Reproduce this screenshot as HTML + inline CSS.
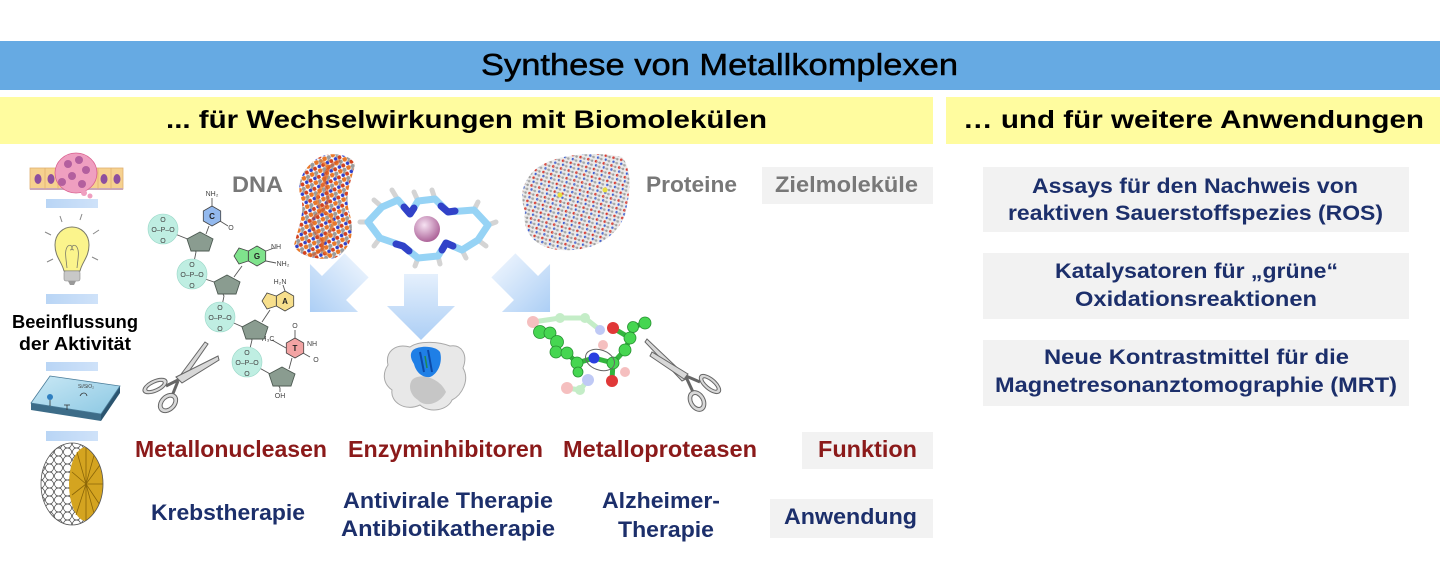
<!DOCTYPE html>
<html><head><meta charset="utf-8"><style>
html,body{margin:0;padding:0;background:#fff;}
svg{display:block;}
text{font-family:"Liberation Sans","DejaVu Sans",sans-serif;}
</style></head><body>
<svg width="1440" height="578" viewBox="0 0 1440 578" xmlns="http://www.w3.org/2000/svg">
<defs>
 <linearGradient id="arrG" x1="0" y1="0" x2="0" y2="1">
  <stop offset="0" stop-color="#e2eefc"/><stop offset="1" stop-color="#a3c9f4"/>
 </linearGradient>
 <linearGradient id="barG" x1="0" y1="0" x2="1" y2="0">
  <stop offset="0" stop-color="#b9d5f5"/><stop offset="1" stop-color="#cfe2f9"/>
 </linearGradient>
 <linearGradient id="chipG" x1="0" y1="0" x2="1" y2="1">
  <stop offset="0" stop-color="#c9e8f5"/><stop offset="1" stop-color="#8cc8e3"/>
 </linearGradient>
 <radialGradient id="pinkG" cx="0.4" cy="0.35" r="0.7">
  <stop offset="0" stop-color="#f6e2f2"/><stop offset="1" stop-color="#a85b93"/>
 </radialGradient>
 <pattern id="dnaP" width="9" height="9" patternUnits="userSpaceOnUse" patternTransform="rotate(-25)">
  <circle cx="2" cy="2" r="2.4" fill="#e8782a"/>
  <circle cx="6.5" cy="2.5" r="2.1" fill="#9b9b9b"/>
  <circle cx="3" cy="6.8" r="1.8" fill="#3040c8"/>
  <circle cx="7.2" cy="7" r="2" fill="#d2421f"/>
  <circle cx="5" cy="5" r="1.2" fill="#a0a0a0"/>
 </pattern>
 <pattern id="protP" width="8" height="8" patternUnits="userSpaceOnUse" patternTransform="rotate(15)">
  <circle cx="1.5" cy="1.5" r="1.3" fill="#e02a20"/>
  <circle cx="5.5" cy="2" r="1.2" fill="#9a9a9a"/>
  <circle cx="2.5" cy="5.5" r="1.2" fill="#2f55d8"/>
  <circle cx="6" cy="6" r="1.3" fill="#a8a8a8"/>
  <path d="M1.5,1.5 L5.5,2 M2.5,5.5 L6,6" stroke="#aaa" stroke-width="0.7"/>
 </pattern>
 <pattern id="micP" width="9" height="8" patternUnits="userSpaceOnUse">
  <circle cx="4.5" cy="4" r="4" fill="#fff" stroke="#444" stroke-width="0.7"/>
 </pattern>
 <clipPath id="micClip"><ellipse cx="72" cy="484" rx="31" ry="41"/></clipPath>
 <g id="arrow"><path d="M-17,-33 L17,-33 L17,-1 L34,-1 L0,33 L-34,-1 L-17,-1 Z" fill="url(#arrG)" opacity="0.9"/></g>
</defs>

<!-- header bars -->
<rect x="0" y="41" width="1440" height="49" fill="#66aae3"/>
<text x="481" y="75" font-size="31" fill="#000" stroke="#000" stroke-width="0.5" textLength="477" lengthAdjust="spacingAndGlyphs">Synthese von Metallkomplexen</text>
<rect x="0" y="97" width="933" height="47" fill="#fffc9f"/>
<rect x="946" y="97" width="494" height="47" fill="#fffc9f"/>
<text x="166" y="128" font-size="25" font-weight="bold" fill="#000" textLength="601" lengthAdjust="spacingAndGlyphs">... für Wechselwirkungen mit Biomolekülen</text>
<text x="963" y="128" font-size="25" font-weight="bold" fill="#000" textLength="461" lengthAdjust="spacingAndGlyphs">… und für weitere Anwendungen</text>

<!-- right boxes -->
<rect x="983" y="167" width="426" height="65" fill="#f2f2f2"/>
<rect x="983" y="253" width="426" height="66" fill="#f2f2f2"/>
<rect x="983" y="340" width="426" height="66" fill="#f2f2f2"/>
<g font-size="21" font-weight="bold" fill="#1c2f6b">
 <text x="1032" y="193" textLength="326" lengthAdjust="spacingAndGlyphs">Assays für den Nachweis von</text>
 <text x="1008" y="220" textLength="375" lengthAdjust="spacingAndGlyphs">reaktiven Sauerstoffspezies (ROS)</text>
 <text x="1055" y="278" textLength="283" lengthAdjust="spacingAndGlyphs">Katalysatoren für „grüne“</text>
 <text x="1075" y="306" textLength="242" lengthAdjust="spacingAndGlyphs">Oxidationsreaktionen</text>
 <text x="1044" y="364" textLength="305" lengthAdjust="spacingAndGlyphs">Neue Kontrastmittel für die</text>
 <text x="995" y="392" textLength="402" lengthAdjust="spacingAndGlyphs">Magnetresonanztomographie (MRT)</text>
</g>

<!-- label boxes -->
<rect x="762" y="167" width="171" height="37" fill="#f2f2f2"/>
<rect x="802" y="432" width="131" height="37" fill="#f2f2f2"/>
<rect x="770" y="499" width="163" height="39" fill="#f2f2f2"/>
<g font-size="22" font-weight="bold" fill="#787878">
 <text x="232" y="192" textLength="51" lengthAdjust="spacingAndGlyphs">DNA</text>
 <text x="646" y="192" textLength="91" lengthAdjust="spacingAndGlyphs">Proteine</text>
 <text x="775" y="192" textLength="143" lengthAdjust="spacingAndGlyphs">Zielmoleküle</text>
</g>
<g font-size="23" font-weight="bold" fill="#8b1a1a">
 <text x="135" y="457" textLength="192" lengthAdjust="spacingAndGlyphs">Metallonucleasen</text>
 <text x="348" y="457" textLength="195" lengthAdjust="spacingAndGlyphs">Enzyminhibitoren</text>
 <text x="563" y="457" textLength="194" lengthAdjust="spacingAndGlyphs">Metalloproteasen</text>
 <text x="818" y="457" textLength="99" lengthAdjust="spacingAndGlyphs">Funktion</text>
</g>
<g font-size="22" font-weight="bold" fill="#1c2f6b">
 <text x="151" y="520" textLength="154" lengthAdjust="spacingAndGlyphs">Krebstherapie</text>
 <text x="343" y="508" textLength="210" lengthAdjust="spacingAndGlyphs">Antivirale Therapie</text>
 <text x="341" y="536" textLength="214" lengthAdjust="spacingAndGlyphs">Antibiotikatherapie</text>
 <text x="602" y="508" textLength="118" lengthAdjust="spacingAndGlyphs">Alzheimer-</text>
 <text x="618" y="537" textLength="96" lengthAdjust="spacingAndGlyphs">Therapie</text>
 <text x="784" y="524" textLength="133" lengthAdjust="spacingAndGlyphs">Anwendung</text>
</g>

<!-- left column -->
<g>
 <rect x="30" y="168" width="93" height="21" fill="#f6d18f" stroke="#e0b070" stroke-width="0.8"/>
 <path d="M30,189 L123,189" stroke="#c9a7b8" stroke-width="2"/>
 <path d="M45,168 V189 M58,168 V189 M98,168 V189 M111,168 V189" stroke="#e0b070" stroke-width="0.8"/>
 <ellipse cx="38" cy="179" rx="3.5" ry="5" fill="#8e4f9e"/>
 <ellipse cx="51" cy="179" rx="3.5" ry="5" fill="#8e4f9e"/>
 <ellipse cx="104" cy="179" rx="3.5" ry="5" fill="#8e4f9e"/>
 <ellipse cx="117" cy="179" rx="3.5" ry="5" fill="#8e4f9e"/>
 <ellipse cx="76" cy="173" rx="21" ry="20" fill="#ef9fc0" stroke="#d9608e" stroke-width="0.8"/>
 <circle cx="68" cy="164" r="4" fill="#b35f9e"/><circle cx="79" cy="160" r="4" fill="#b35f9e"/>
 <circle cx="86" cy="170" r="4" fill="#b35f9e"/><circle cx="72" cy="176" r="4" fill="#b35f9e"/>
 <circle cx="62" cy="182" r="4" fill="#b35f9e"/><circle cx="82" cy="184" r="4" fill="#b35f9e"/>
 <circle cx="84" cy="193" r="3" fill="#ef9fc0"/><circle cx="90" cy="196" r="2.5" fill="#ef9fc0"/>
 <rect x="46" y="199" width="52" height="9" fill="url(#barG)"/>
 <rect x="46" y="294" width="52" height="10" fill="url(#barG)"/>
 <rect x="46" y="362" width="52" height="9" fill="url(#barG)"/>
 <rect x="46" y="431" width="52" height="10" fill="url(#barG)"/>
 <g stroke="#888" stroke-width="1">
  <line x1="60" y1="216" x2="62" y2="222"/><line x1="82" y1="214" x2="80" y2="220"/>
  <line x1="45" y1="232" x2="51" y2="235"/><line x1="99" y1="230" x2="93" y2="234"/>
  <line x1="47" y1="262" x2="53" y2="259"/><line x1="98" y1="260" x2="92" y2="257"/>
 </g>
 <path d="M64,271 C62,262 55,257 55,245 C55,234 63,227 72,227 C81,227 89,234 89,245 C89,257 82,262 80,271 Z" fill="#fbf48c" stroke="#7a7a6a" stroke-width="1"/>
 <path d="M67,268 C66,258 64,250 68,246 C72,243 74,250 70,250 M77,268 C78,258 80,250 76,246 C72,243 70,250 74,250" fill="none" stroke="#7a7a6a" stroke-width="0.8"/>
 <rect x="64" y="271" width="16" height="10" rx="2" fill="#c8c8c8" stroke="#888" stroke-width="0.6"/>
 <path d="M68,281 L76,281 L74,285 L70,285 Z" fill="#999"/>
 <text x="12" y="328" font-size="18" font-weight="bold" fill="#000" textLength="126" lengthAdjust="spacingAndGlyphs">Beeinflussung</text>
 <text x="19" y="350" font-size="18" font-weight="bold" fill="#000" textLength="112" lengthAdjust="spacingAndGlyphs">der Aktivität</text>
 <polygon points="31,403 101,414 101,421 31,410" fill="#3d6c88"/>
 <polygon points="101,414 120,386 120,393 101,421" fill="#2b546f"/>
 <polygon points="50,376 120,386 101,414 31,403" fill="url(#chipG)" stroke="#4a7c99" stroke-width="0.8"/>
 <text x="78" y="388" font-size="5" fill="#444">Si/SiO₂</text>
 <circle cx="50" cy="397" r="3" fill="#2f7fc0"/><line x1="50" y1="400" x2="50" y2="406" stroke="#333" stroke-width="0.8"/>
 <path d="M64,405 L70,405 M67,405 L67,410" stroke="#333" stroke-width="0.8"/>
 <path d="M80,396 C82,392 86,392 87,396" fill="none" stroke="#333" stroke-width="0.8"/>
 <g clip-path="url(#micClip)">
  <rect x="40" y="442" width="66" height="86" fill="url(#micP)"/>
  <ellipse cx="86" cy="484" rx="17" ry="37" fill="#d4a420"/>
  <g stroke="#8a6508" stroke-width="0.8">
   <line x1="86" y1="484" x2="86" y2="448"/><line x1="86" y1="484" x2="95" y2="452"/><line x1="86" y1="484" x2="100" y2="465"/>
   <line x1="86" y1="484" x2="103" y2="484"/><line x1="86" y1="484" x2="100" y2="505"/><line x1="86" y1="484" x2="95" y2="517"/>
   <line x1="86" y1="484" x2="86" y2="521"/><line x1="86" y1="484" x2="76" y2="515"/><line x1="86" y1="484" x2="72" y2="495"/>
   <line x1="86" y1="484" x2="72" y2="472"/><line x1="86" y1="484" x2="77" y2="452"/>
  </g>
 </g>
 <ellipse cx="72" cy="484" rx="31" ry="41" fill="none" stroke="#555" stroke-width="0.8"/>
</g>

<!-- DNA chemistry -->
<g>
 <g stroke="#555" stroke-width="0.9" fill="none">
  <path d="M170,232 L190,240 L196,252 L192,272"/>
  <path d="M199,277 L217,283 L224,296 L220,316"/>
  <path d="M227,320 L245,328 L252,340 L247,361"/>
  <path d="M254,365 L272,375 L280,388 L280,392"/>
  <path d="M206,234 L209,226"/>
  <path d="M234,277 L242,266"/>
  <path d="M262,322 L270,310"/>
  <path d="M289,369 L292,358"/>
  <path d="M212,206 L212,198 M220,221 L228,226 M266,251 L274,248 M266,261 L276,263 M285,291 L283,285 M303,353 L310,357 M295,338 L295,330 M286,348 L272,340"/>
 </g>
 <g fill="#bfeee2" stroke="#9ad8c8" stroke-width="0.6">
  <circle cx="163" cy="229" r="15"/><circle cx="192" cy="274" r="15"/>
  <circle cx="220" cy="317" r="15"/><circle cx="247" cy="362" r="15"/>
 </g>
 <g font-size="7" fill="#444" text-anchor="middle">
  <text x="163" y="232">O–P–O</text><text x="192" y="277">O–P–O</text>
  <text x="220" y="320">O–P–O</text><text x="247" y="365">O–P–O</text>
  <text x="163" y="222">O</text><text x="163" y="243">O</text>
  <text x="192" y="267">O</text><text x="192" y="288">O</text>
  <text x="220" y="310">O</text><text x="220" y="331">O</text>
  <text x="247" y="355">O</text><text x="247" y="376">O</text>
  <text x="212" y="196">NH₂</text><text x="231" y="230">O</text>
  <text x="276" y="249">NH</text><text x="283" y="266">NH₂</text>
  <text x="280" y="284">H₂N</text><text x="295" y="328">O</text>
  <text x="312" y="346">NH</text><text x="316" y="362">O</text>
  <text x="268" y="341">H₃C</text><text x="280" y="398">OH</text>
 </g>
 <g fill="#8a9c90" stroke="#4d5a52" stroke-width="0.9">
  <polygon points="200,232 213,239 209,251 191,251 187,239"/>
  <polygon points="227,275 240,282 236,294 218,294 214,282"/>
  <polygon points="255,320 268,327 264,339 246,339 242,327"/>
  <polygon points="282,367 295,374 291,386 273,386 269,374"/>
 </g>
 <g stroke="#444" stroke-width="0.8">
  <polygon points="212,206 220.7,211 220.7,221 212,226 203.3,221 203.3,211" fill="#93b9ee"/>
  <polygon points="257,246 265.7,251 265.7,261 257,266 248.3,261 248.3,251" fill="#7fe38c"/>
  <polygon points="248.3,251 248.3,261 239,264 234,256 239,248" fill="#7fe38c"/>
  <polygon points="285,291 293.7,296 293.7,306 285,311 276.3,306 276.3,296" fill="#f7df8c"/>
  <polygon points="276.3,296 276.3,306 267,309 262,301 267,293" fill="#f7df8c"/>
  <polygon points="295,338 303.7,343 303.7,353 295,358 286.3,353 286.3,343" fill="#f2a3a3"/>
 </g>
 <g font-size="8" font-weight="bold" fill="#222" text-anchor="middle">
  <text x="212" y="219">C</text><text x="257" y="259">G</text>
  <text x="285" y="304">A</text><text x="295" y="351">T</text>
 </g>
</g>

<!-- left scissors -->
<g stroke="#666" stroke-width="1" fill="#d8d8d8">
 <path d="M176,381 L205,342 L208,344 L183,380 Z"/>
 <path d="M176,377 L218,356 L219,360 L182,383 Z"/>
 <path d="M178,380 L166,386" stroke-width="3"/>
 <path d="M178,381 L172,396" stroke-width="3"/>
 <ellipse cx="155" cy="386" rx="13" ry="6" transform="rotate(-25 155 386)"/>
 <ellipse cx="155" cy="386" rx="9" ry="3" fill="#fff" transform="rotate(-25 155 386)"/>
 <ellipse cx="168" cy="403" rx="11" ry="8" transform="rotate(-45 168 403)"/>
 <ellipse cx="168" cy="403" rx="7" ry="4.5" fill="#fff" transform="rotate(-45 168 403)"/>
</g>

<!-- DNA helix -->
<path d="M318,158 C330,151 352,154 355,165 C350,185 344,196 350,215 C355,235 350,250 335,258 C315,261 297,255 294,245 C299,225 306,210 300,195 C297,180 305,166 318,158 Z" fill="url(#dnaP)"/>
<path d="M320,160 C345,175 300,195 325,212 C350,228 305,242 330,256" fill="none" stroke="#e8782a" stroke-width="3" opacity="0.7"/>
<path d="M340,160 C305,178 345,195 318,214 C295,230 345,244 310,256" fill="none" stroke="#d2501f" stroke-width="3" opacity="0.6"/>

<!-- macrocycle -->
<g stroke-linecap="round" stroke-linejoin="round" fill="none">
 <g stroke="#d4d4d4" stroke-width="5">
  <path d="M398,200 L392,190 M382,207 L374,200 M368,222 L360,222 M380,238 L374,246 M418,258 L415,266 M438,256 L440,264 M462,250 L466,258 M478,240 L486,246 M488,225 L496,222 M474,210 L478,202 M435,199 L432,190 M418,201 L414,192"/>
 </g>
 <path d="M410,214 L398,200 L382,207 L368,222 L380,238 L403,246 L418,258 L438,256 L446,243 L462,250 L478,240 L488,225 L474,210 L448,212 L435,199 L418,201 Z" stroke="#96d3f5" stroke-width="7"/>
 <g stroke="#3142c8" stroke-width="7">
  <path d="M404,207 L410,214 L414,208"/><path d="M396,244 L403,246 L409,251"/>
  <path d="M442,250 L446,243 L453,246"/><path d="M441,206 L448,212 L455,211"/>
 </g>
</g>
<circle cx="427" cy="229" r="13" fill="url(#pinkG)"/>

<!-- protein -->
<path d="M530,175 C545,155 590,150 622,157 C633,170 630,195 625,215 C615,240 590,252 560,250 C535,248 522,232 525,212 C520,196 522,186 530,175 Z" fill="#d8d8d8" opacity="0.5"/>
<path d="M530,175 C545,155 590,150 622,157 C633,170 630,195 625,215 C615,240 590,252 560,250 C535,248 522,232 525,212 C520,196 522,186 530,175 Z" fill="url(#protP)"/>
<circle cx="560" cy="195" r="2.5" fill="#e8e040"/><circle cx="605" cy="190" r="2.5" fill="#e8e040"/>

<!-- arrows -->
<use href="#arrow" transform="translate(333.3 288.7) rotate(45)"/>
<use href="#arrow" transform="translate(421 307)"/>
<use href="#arrow" transform="translate(526.7 288.7) rotate(-45)"/>

<!-- enzyme -->
<path d="M388,365 C385,352 395,343 410,347 C420,340 440,342 450,346 C462,344 468,355 463,368 C470,380 462,395 452,400 C448,410 430,414 420,405 C405,412 390,402 392,390 C382,383 383,372 388,365 Z" fill="#e8e8e8" stroke="#a8a8a8" stroke-width="1"/>
<path d="M412,380 C420,372 440,378 446,392 C440,404 425,408 418,400 C410,395 408,386 412,380 Z" fill="#c6c6c6"/>
<path d="M413,350 C420,345 436,346 440,352 C443,362 438,374 430,377 C422,378 416,372 414,364 C410,358 410,353 413,350 Z" fill="#1f7fe6"/>
<path d="M420,352 L424,372 M428,350 L432,372" stroke="#0b4aa8" stroke-width="2"/>
<path d="M425,356 L427,368" stroke="#1f8a50" stroke-width="1.5"/>

<!-- green molecule -->
<g opacity="0.3">
 <path d="M533,322 L560,318 L585,318 L600,330 M588,380 L580,390 L567,388" stroke="#3fc44a" stroke-width="5" fill="none"/>
 <circle cx="533" cy="322" r="6" fill="#e03030"/><circle cx="560" cy="318" r="5" fill="#3fc44a"/>
 <circle cx="585" cy="318" r="5" fill="#3fc44a"/><circle cx="600" cy="330" r="5" fill="#3050e0"/>
 <circle cx="567" cy="388" r="6" fill="#e03030"/><circle cx="588" cy="380" r="6" fill="#3050e0"/>
 <circle cx="580" cy="390" r="5" fill="#3fc44a"/><circle cx="625" cy="372" r="5" fill="#e03030"/>
 <circle cx="603" cy="345" r="5" fill="#e03030"/>
</g>
<g stroke="#33b53e" stroke-width="5" fill="none" stroke-linecap="round">
 <path d="M540,332 L550,333 L557,342 L556,352 L567,353 L577,363 L594,358 L613,363 L625,350 L630,338 L633,327 L645,323"/>
 <path d="M613,363 L612,380 M630,338 L613,328 M577,363 L578,372"/>
</g>
<g stroke="#259030" stroke-width="0.8">
 <circle cx="540" cy="332" r="6.5" fill="#46d651"/><circle cx="550" cy="333" r="6" fill="#46d651"/>
 <circle cx="557" cy="342" r="6.5" fill="#46d651"/><circle cx="556" cy="352" r="6" fill="#46d651"/>
 <circle cx="567" cy="353" r="6" fill="#46d651"/><circle cx="577" cy="363" r="6" fill="#46d651"/>
 <circle cx="578" cy="372" r="5" fill="#46d651"/>
 <circle cx="613" cy="363" r="6" fill="#46d651"/><circle cx="625" cy="350" r="6" fill="#46d651"/>
 <circle cx="630" cy="338" r="6" fill="#46d651"/><circle cx="633" cy="327" r="5.5" fill="#46d651"/>
 <circle cx="645" cy="323" r="6" fill="#46d651"/>
</g>
<circle cx="594" cy="358" r="5.5" fill="#2a3ee0"/>
<circle cx="612" cy="381" r="6" fill="#e03838"/>
<circle cx="613" cy="328" r="6" fill="#e03838"/>
<ellipse cx="600" cy="360" rx="15" ry="10" transform="rotate(20 600 360)" fill="none" stroke="#666" stroke-width="1"/>

<!-- right scissors -->
<g stroke="#666" stroke-width="1" fill="#d8d8d8">
 <path d="M688,378 L647,339 L645,342 L682,381 Z"/>
 <path d="M688,374 L652,352 L650,356 L684,379 Z"/>
 <path d="M686,376 L700,382" stroke-width="3"/>
 <path d="M686,377 L693,392" stroke-width="3"/>
 <ellipse cx="710" cy="384" rx="13" ry="6" transform="rotate(40 710 384)"/>
 <ellipse cx="710" cy="384" rx="9" ry="3" fill="#fff" transform="rotate(40 710 384)"/>
 <ellipse cx="697" cy="401" rx="11" ry="8" transform="rotate(60 697 401)"/>
 <ellipse cx="697" cy="401" rx="7" ry="4.5" fill="#fff" transform="rotate(60 697 401)"/>
</g>
</svg>
</body></html>
